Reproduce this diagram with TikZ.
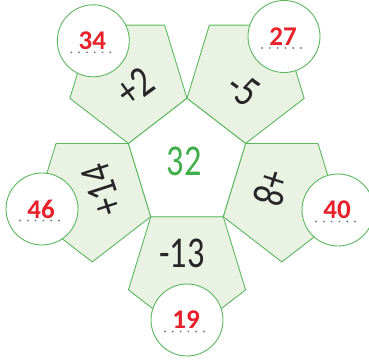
\documentclass[tikz,border=0pt]{standalone}
\usepackage{fontspec}
\setmainfont{Carlito}
\newfontfamily\opfont[FakeStretch=0.78]{Carlito}
\usetikzlibrary{calc}

\definecolor{leafgreen}{HTML}{5DB760}
\definecolor{leaffill}{HTML}{E9F2E3}
\definecolor{hubgreen}{HTML}{3FAE49}
\definecolor{answerred}{HTML}{E8202A}

\begin{document}
\begin{tikzpicture}[
  x=1pt, y=-1pt,
  petal/.style={draw=leafgreen, fill=leaffill, line width=0.9pt, line join=round},
  hub/.style={draw=leafgreen, fill=white, line width=0.9pt, line join=round},
  bubble/.style={circle, draw=leafgreen, fill=white, line width=0.9pt,
                 minimum size=72pt, inner sep=0pt},
  answer/.style={font=\bfseries\fontsize{27}{27}\selectfont, text=answerred, inner sep=0pt},
  op/.style={font=\opfont\fontsize{44}{44}\selectfont, text=black!85, inner sep=0pt},
  dotmark/.style={fill=black!50},
]
  \useasboundingbox (0,0) rectangle (369,362);

  % outer pentagons, each one the middle one flipped over one of its sides
  \foreach \t in {126,198,270,342,54}
    \draw[petal] ({187+99.67*cos(\t)+61.6*cos(\t)}, {163.75-1.0625*(99.67*sin(\t)+61.6*sin(\t))})
      \foreach \j in {1,...,4} {
        -- ({187+99.67*cos(\t)+61.6*cos(\t+72*\j)}, {163.75-1.0625*(99.67*sin(\t)+61.6*sin(\t+72*\j))})
      } -- cycle;

  % middle pentagon
  \draw[hub] ({187+61.6*cos(90)}, {163.75-65.45*sin(90)})
    \foreach \j in {1,...,4} {
      -- ({187+61.6*cos(90+72*\j)}, {163.75-65.45*sin(90+72*\j)})
    } -- cycle;

  \node[op, text=hubgreen] (start) at (184,161) {32};

  \node[op, rotate=36]   (add2)  at (135.5,87) {+2};
  \node[op, rotate=-36]  (sub5)  at (243,89)   {-5};
  \node[op, rotate=108]  (add14) at (102,190)  {+14};
  \node[op, rotate=-108] (add8)  at (272,188)  {+8};
  \node[op]              (sub13) at (182,253)  {-13};

  % answer bubbles with the dotted line under the number
  \foreach \name/\pos/\val in {res34/{(93.3,40.8)}/34, res27/{(284,36.5)}/27,
                               res46/{(42,209)}/46, res40/{(338,210)}/40,
                               res19/{(187,320)}/19} {
    \node[bubble] (\name) at \pos {};
    \node[answer] (\name-val) at ([xshift=-1pt]\name.center) {\val};
    \foreach \i in {0,...,5}
      \fill[dotmark] ($(\name.center)+(-22+7.8*\i,11.5)$) circle (1.05);
  }
\end{tikzpicture}
\end{document}
